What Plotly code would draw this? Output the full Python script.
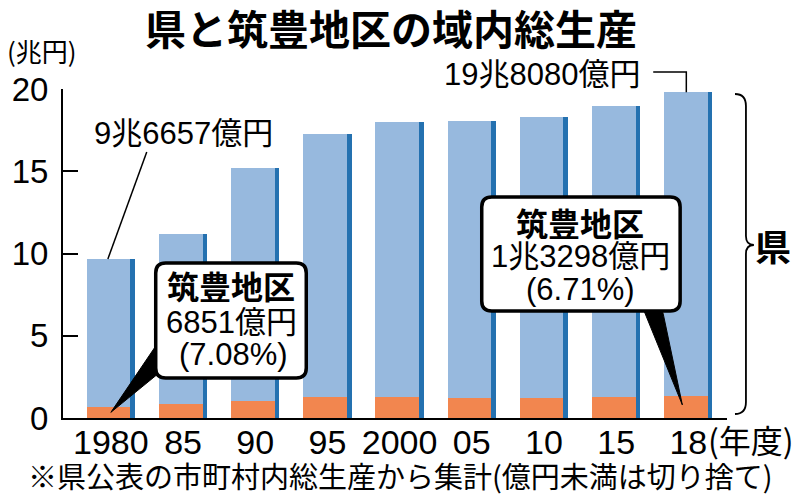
import plotly.graph_objects as go

# ---- data ----
years = ["1980", "85", "90", "95", "2000", "05", "10", "15", "18"]
prefecture = [9.6657, 11.16, 15.21, 17.27, 17.98, 18.04, 18.27, 18.95, 19.808]  # 兆円
chikuho = [0.6851, 0.85, 1.06, 1.27, 1.28, 1.24, 1.23, 1.28, 1.3298]           # 兆円
yticks = [0, 5, 10, 15, 20]

W, H = 800, 497
L, R, T, B = 61, 727, 89, 418
X0, X1 = -0.663, 8.536
Y0, Y1 = 0, 20

LIGHT = "#97b9de"
DARK = "#2471b0"
ORANGE = "#f2864f"
NUM = "Liberation Sans, Arial, Noto Sans CJK JP"
CJK = "Noto Sans CJK JP, Noto Sans CJK SC"


def px(x):
    return (x - L) / (R - L)


def py(y):
    return (B - y) / (B - T)


def xpix(i):
    return L + (i - X0) * (R - L) / (X1 - X0)


def ypix(v):
    return B - (v - Y0) * (B - T) / (Y1 - Y0)


xs = list(range(len(years)))
fig = go.Figure()
fig.add_bar(x=xs, y=prefecture, marker=dict(color=LIGHT, line=dict(width=0)),
            width=0.605, offset=-0.335, name="県")
fig.add_bar(x=xs, y=chikuho, marker=dict(color=ORANGE, line=dict(width=0)),
            width=0.605, offset=-0.335, name="筑豊地区")
fig.add_bar(x=xs, y=prefecture, marker=dict(color=DARK, line=dict(width=0)),
            width=0.065, offset=0.27, name="edge")

shapes = []
annotations = []


def rbox(x0, y0, x1, y1, r=10):
    p = (f"M {px(x0+r)},{py(y0)} L {px(x1-r)},{py(y0)} Q {px(x1)},{py(y0)} {px(x1)},{py(y0+r)} "
         f"L {px(x1)},{py(y1-r)} Q {px(x1)},{py(y1)} {px(x1-r)},{py(y1)} "
         f"L {px(x0+r)},{py(y1)} Q {px(x0)},{py(y1)} {px(x0)},{py(y1-r)} "
         f"L {px(x0)},{py(y0+r)} Q {px(x0)},{py(y0)} {px(x0+r)},{py(y0)} Z")
    return dict(type="path", xref="paper", yref="paper", path=p,
                line=dict(color="black", width=3.5), fillcolor="white", layer="above")


def tri(pts):
    p = "M " + " L ".join(f"{px(a)},{py(b)}" for a, b in pts) + " Z"
    return dict(type="path", xref="paper", yref="paper", path=p,
                line=dict(color="black", width=1), fillcolor="black", layer="above")


# callout 1 (1980 筑豊)
tip1 = (xpix(0) - 0.0, ypix(chikuho[0] * 0.5))
shapes.append(tri([(154, 346), (161, 370), tip1]))
shapes.append(rbox(154, 263, 305, 378))
# callout 2 (2018 筑豊)
tip2 = (xpix(8) - 6, ypix(chikuho[8] * 0.6))
shapes.append(tri([(643, 309), (662, 309), tip2]))
shapes.append(rbox(481, 197, 680, 311))

# leader for 1980 県
shapes.append(dict(type="line", xref="paper", yref="paper",
                   x0=px(145), y0=py(152), x1=px(xpix(0) - 3), y1=py(ypix(prefecture[0])),
                   line=dict(color="black", width=1.5)))
# leader for 2018 県
shapes.append(dict(type="path", xref="paper", yref="paper",
                   path=f"M {px(653)},{py(72)} L {px(xpix(8) - 2)},{py(72)} L {px(xpix(8) - 2)},{py(ypix(prefecture[8]))}",
                   line=dict(color="black", width=1.5)))
# bracket
bp = (f"M {px(735)},{py(94)} Q {px(746)},{py(94)} {px(746)},{py(106)} "
      f"L {px(746)},{py(236)} Q {px(746)},{py(245)} {px(754)},{py(245)} "
      f"Q {px(746)},{py(245)} {px(746)},{py(254)} "
      f"L {px(746)},{py(402)} Q {px(746)},{py(414)} {px(735)},{py(414)}")
shapes.append(dict(type="path", xref="paper", yref="paper", path=bp,
                   line=dict(color="black", width=1.8)))


def ann(text, x, y, size, family=NUM, xanchor="center", yanchor="middle"):
    annotations.append(dict(text=text, x=px(x), y=py(y), xref="paper", yref="paper",
                            showarrow=False, xanchor=xanchor, yanchor=yanchor,
                            font=dict(size=size, family=family, color="black")))


ann("<b>県と筑豊地区の域内総生産</b>", 390, 27, 41, CJK)
ann("(兆円)", 3, 50, 26, CJK, xanchor="left")
ann("19兆8080億円", 541, 74, 31)
ann("9兆6657億円", 182, 133, 31)
ann("<b>筑豊地区</b>", 230, 285, 32, CJK)
ann("6851億円", 230, 322, 31)
ann("(7.08%)", 232, 354, 31)
ann("<b>筑豊地区</b>", 580, 222, 32, CJK)
ann("1兆3298億円", 580, 256, 31)
ann("(6.71%)", 580, 289, 31)
ann("<b>県</b>", 773, 245, 36, CJK)
ann("(年度)", 706, 439, 32, CJK, xanchor="left")
ann("※県公表の市町村内総生産から集計(億円未満は切り捨て)", 400, 475, 29, CJK)

fig.update_layout(
    width=W, height=H,
    margin=dict(l=L, r=W - R, t=T, b=H - B, pad=0),
    paper_bgcolor="white", plot_bgcolor="white",
    barmode="overlay", showlegend=False, bargap=0,
    shapes=shapes, annotations=annotations,
    xaxis=dict(range=[X0, X1], tickvals=xs, ticktext=years, showgrid=False, zeroline=False,
               showline=True, linecolor="black", linewidth=2, ticks="",
               ticklabelstandoff=-7,
               tickfont=dict(size=34, family=NUM, color="black"), fixedrange=True),
    yaxis=dict(range=[Y0, Y1], tickvals=yticks, showgrid=False, zeroline=False,
               showline=True, linecolor="black", linewidth=2, ticks="inside", ticklen=15,
               tickwidth=2, tickcolor="black", ticklabelstandoff=6,
               tickfont=dict(size=33, family=NUM, color="black"), fixedrange=True),
)

fig.write_html("out.html", config={"displayModeBar": False})
